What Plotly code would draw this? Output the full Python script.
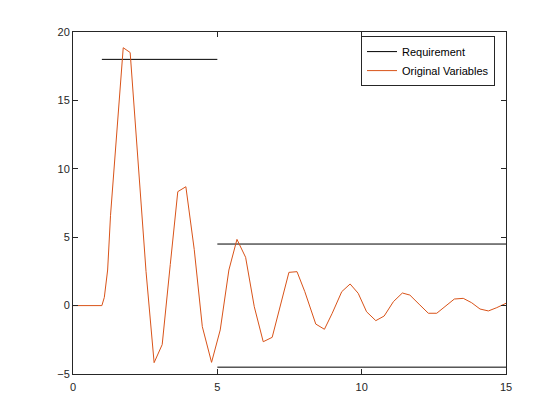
import plotly.graph_objects as go

# Requirement bounds (segments)
req_upper1_x = [1, 5]
req_upper1_y = [18, 18]
req_upper2_x = [5, 15]
req_upper2_y = [4.5, 4.5]
req_lower_x = [5, 15]
req_lower_y = [-4.5, -4.5]

# Original Variables response
t = [0, 1.0, 1.085, 1.2, 1.3, 1.74, 1.98, 2.25, 2.53, 2.81, 3.09, 3.37, 3.63,
     3.91, 4.2, 4.48, 4.8, 5.1, 5.4, 5.68, 5.98, 6.28, 6.59, 6.9, 7.48, 7.76,
     8.03, 8.41, 8.71, 8.98, 9.31, 9.6, 9.88, 10.17, 10.49, 10.78, 11.1, 11.41,
     11.67, 11.99, 12.31, 12.6, 12.9, 13.21, 13.52, 13.81, 14.1, 14.39, 14.68, 15.0]
y = [0, 0, 0.6, 2.6, 6.6, 18.85, 18.5, 11.0, 2.5, -4.17, -2.85, 3.0, 8.33,
     8.69, 4.1, -1.54, -4.15, -1.78, 2.6, 4.84, 3.53, -0.08, -2.64, -2.32, 2.43, 2.48,
     1.02, -1.35, -1.73, -0.56, 1.02, 1.58, 0.9, -0.45, -1.1, -0.76, 0.29, 0.92,
     0.77, 0.1, -0.56, -0.56, -0.05, 0.48, 0.53, 0.21, -0.25, -0.39, -0.15, 0.17]

x_ticks = [0, 5, 10, 15]
y_ticks = [-5, 0, 5, 10, 15, 20]

fig = go.Figure()
black = "#000000"
fig.add_trace(go.Scatter(x=req_upper1_x, y=req_upper1_y, mode="lines",
                         line=dict(color=black, width=1), name="Requirement",
                         legendgroup="req"))
fig.add_trace(go.Scatter(x=req_upper2_x, y=req_upper2_y, mode="lines",
                         line=dict(color=black, width=1), name="Requirement",
                         legendgroup="req", showlegend=False))
fig.add_trace(go.Scatter(x=req_lower_x, y=req_lower_y, mode="lines",
                         line=dict(color=black, width=1), name="Requirement",
                         legendgroup="req", showlegend=False))
fig.add_trace(go.Scatter(x=t, y=y, mode="lines",
                         line=dict(color="#D95319", width=1), name="Original Variables"))

axis_common = dict(showgrid=False, zeroline=False, showline=True, linecolor="#262626",
                   linewidth=1, mirror="ticks", ticks="inside", ticklen=5,
                   tickcolor="#262626", tickfont=dict(family="Liberation Sans, Arial", size=11,
                                                      color="#262626"))
fig.update_xaxes(range=[0, 15], tickvals=x_ticks, ticklabelstandoff=3, **axis_common)
fig.update_yaxes(range=[-5, 20], tickvals=y_ticks, **axis_common)

fig.update_layout(
    width=560, height=420,
    margin=dict(l=65, r=62, t=24, b=54),
    paper_bgcolor="white", plot_bgcolor="white",
    showlegend=True,
    legend=dict(x=0.9746, y=0.988, xanchor="right", yanchor="top",
                bgcolor="white", bordercolor="#262626", borderwidth=1,
                font=dict(family="Liberation Sans, Arial", size=11, color="#000000"),
                tracegroupgap=0, itemwidth=30),
)

fig.write_html("out.html")
